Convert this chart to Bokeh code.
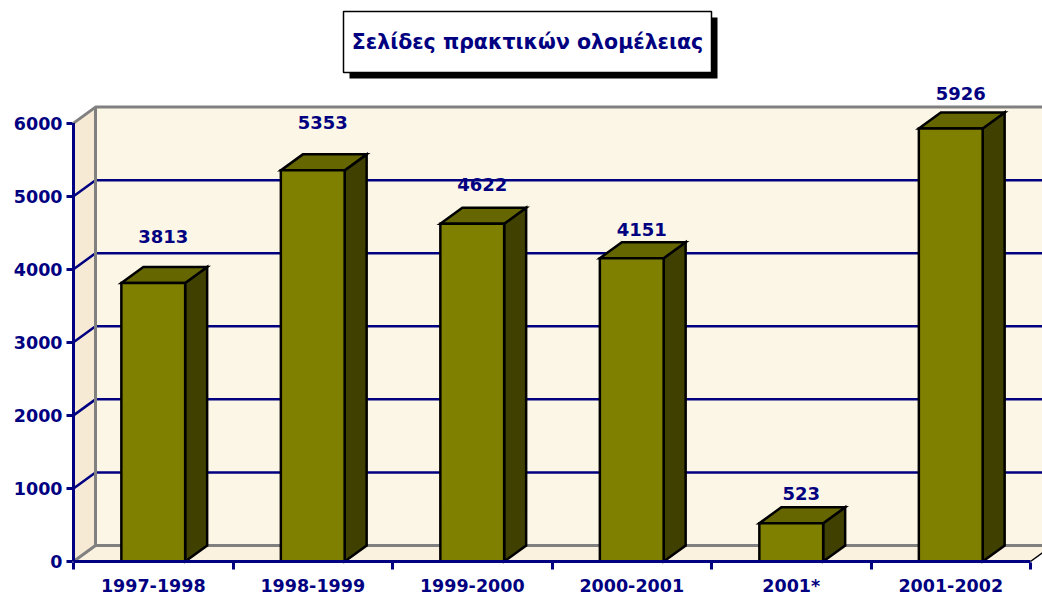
from bokeh.plotting import figure
from bokeh.models import Range1d, FixedTicker
from bokeh.embed import file_html
from bokeh.resources import INLINE
from bokeh.core.properties import value

# ---------------- data ----------------
categories = ["1997-1998", "1998-1999", "1999-2000", "2000-2001", "2001*", "2001-2002"]
pages = [3813, 5353, 4622, 4151, 523, 5926]
y_ticks = [0, 1000, 2000, 3000, 4000, 5000, 6000]
title_text = "Σελίδες πρακτικών ολομέλειας"

# styling: how far (px) each value label sits above its bar top
label_lift_px = [30, 32, 23, 13, 13.5, 19]

# ---------------- geometry ----------------
W, H = 1042, 603
LEFT, BOTTOM = 71, 40
FW, FH = W - LEFT, H - BOTTOM
PX_CAT = 159.5              # px per category
PX_VAL = 438.4 / 6000.0     # px per page
X0 = -2.0 / PX_CAT
Y0 = -2.0 / PX_VAL
X1 = X0 + FW / PX_CAT
Y1 = Y0 + FH / PX_VAL
DX = 22.0 / PX_CAT          # depth offset
DY = 16.0 / PX_VAL
HALF = 0.2
n = len(categories)
YTOP = max(y_ticks)
XR = X1 + 1

NAVY = "#000080"
FONT = "DejaVu Sans"

# pixel helpers (for the decorative title box)
def sx(px):
    return X0 + (px - LEFT) / PX_CAT

def sy(py):
    return Y0 + (H - BOTTOM - py) / PX_VAL

p = figure(width=W, height=H, x_range=Range1d(X0, X1), y_range=Range1d(Y0, Y1),
           output_backend="svg", toolbar_location=None, min_border=0,
           min_border_left=LEFT, min_border_bottom=BOTTOM)
p.outline_line_color = None
p.xgrid.visible = False
p.ygrid.visible = False
p.background_fill_color = "white"
p.border_fill_color = "white"

# ---------------- walls ----------------
p.quad(left=DX, right=XR, bottom=DY, top=YTOP + DY, fill_color="#FCF6E7", line_color=None)
p.patch([0, DX, DX, 0], [0, DY, YTOP + DY, YTOP], fill_color="#F6EAD4", line_color=None)
p.patch([0, n, n + DX, DX], [0, 0, DY, DY], fill_color="#FAF1DE", line_color=None)

# gridlines on back and side walls
gx, gy = [], []
for t in y_ticks[1:-1]:
    gx.append([0, DX, XR])
    gy.append([t, t + DY, t + DY])
p.multi_line(gx, gy, line_color=NAVY, line_width=2.5)

# wall edges
p.multi_line([[0, DX, XR], [0, DX, XR], [DX, DX]],
             [[YTOP, YTOP + DY, YTOP + DY], [0, DY, DY], [DY, YTOP + DY]],
             line_color="#808080", line_width=3)
p.line([n, n + DX], [0, DY], line_color="black", line_width=1.5)

# ---------------- bars ----------------
cx = [i + 0.5 for i in range(n)]
side_x, side_y, top_x, top_y = [], [], [], []
for c, v in zip(cx, pages):
    side_x.append([c + HALF, c + HALF + DX, c + HALF + DX, c + HALF])
    side_y.append([0, DY, v + DY, v])
    top_x.append([c - HALF, c + HALF, c + HALF + DX, c - HALF + DX])
    top_y.append([v, v, v + DY, v + DY])
p.patches(side_x, side_y, fill_color="#404000", line_color="black", line_width=2.5, line_join="miter")
p.patches(top_x, top_y, fill_color="#666600", line_color="black", line_width=2.5, line_join="miter")
p.quad(left=[c - HALF for c in cx], right=[c + HALF for c in cx], bottom=0, top=pages,
       fill_color="#808000", line_color="black", line_width=2.5, line_join="miter")

# front axis lines
p.line([0, 0], [0, YTOP], line_color=NAVY, line_width=3)
p.line([0, n], [0, 0], line_color=NAVY, line_width=3)

# value labels
p.text(x=[c + 0.063 for c in cx],
       y=[v + DY + l / PX_VAL for v, l in zip(pages, label_lift_px)],
       text=[str(v) for v in pages], text_align="center", text_baseline="middle",
       text_color=NAVY, text_font=value(FONT), text_font_style="bold",
       text_font_size="18px")

# ---------------- title box ----------------
p.quad(left=sx(349), right=sx(717), top=sy(17), bottom=sy(78), fill_color="black", line_color=None)
p.quad(left=sx(343), right=sx(711), top=sy(11), bottom=sy(72), fill_color="white",
       line_color="black", line_width=1.5)
p.text(x=[sx(527)], y=[sy(41.5)], text=[title_text], text_align="center", text_baseline="middle",
       text_color=NAVY, text_font=value(FONT), text_font_style="bold", text_font_size="20.5px")

# ---------------- axes ----------------
ya = p.yaxis[0]
ya.ticker = FixedTicker(ticks=y_ticks, minor_ticks=[])
ya.axis_line_color = None
ya.major_tick_line_color = NAVY
ya.major_tick_line_width = 3
ya.major_tick_out = 5
ya.major_tick_in = 1
ya.minor_tick_line_color = None
ya.major_label_standoff = 4
ya.major_label_text_color = NAVY
ya.major_label_text_font = FONT
ya.major_label_text_font_style = "bold"
ya.major_label_text_font_size = "17.5px"

xa = p.xaxis[0]
xa.ticker = FixedTicker(ticks=cx, minor_ticks=list(range(n + 1)))
xa.major_label_overrides = {c: lab for c, lab in zip(cx, categories)}
xa.axis_line_color = None
xa.major_tick_line_color = None
xa.major_tick_out = 0
xa.major_tick_in = 0
xa.minor_tick_line_color = NAVY
xa.minor_tick_line_width = 3
xa.minor_tick_out = 6
xa.minor_tick_in = 1
xa.major_label_standoff = 6
xa.major_label_text_color = NAVY
xa.major_label_text_font = FONT
xa.major_label_text_font_style = "bold"
xa.major_label_text_font_size = "17.5px"

open("out.html", "w").write(file_html(p, INLINE))
